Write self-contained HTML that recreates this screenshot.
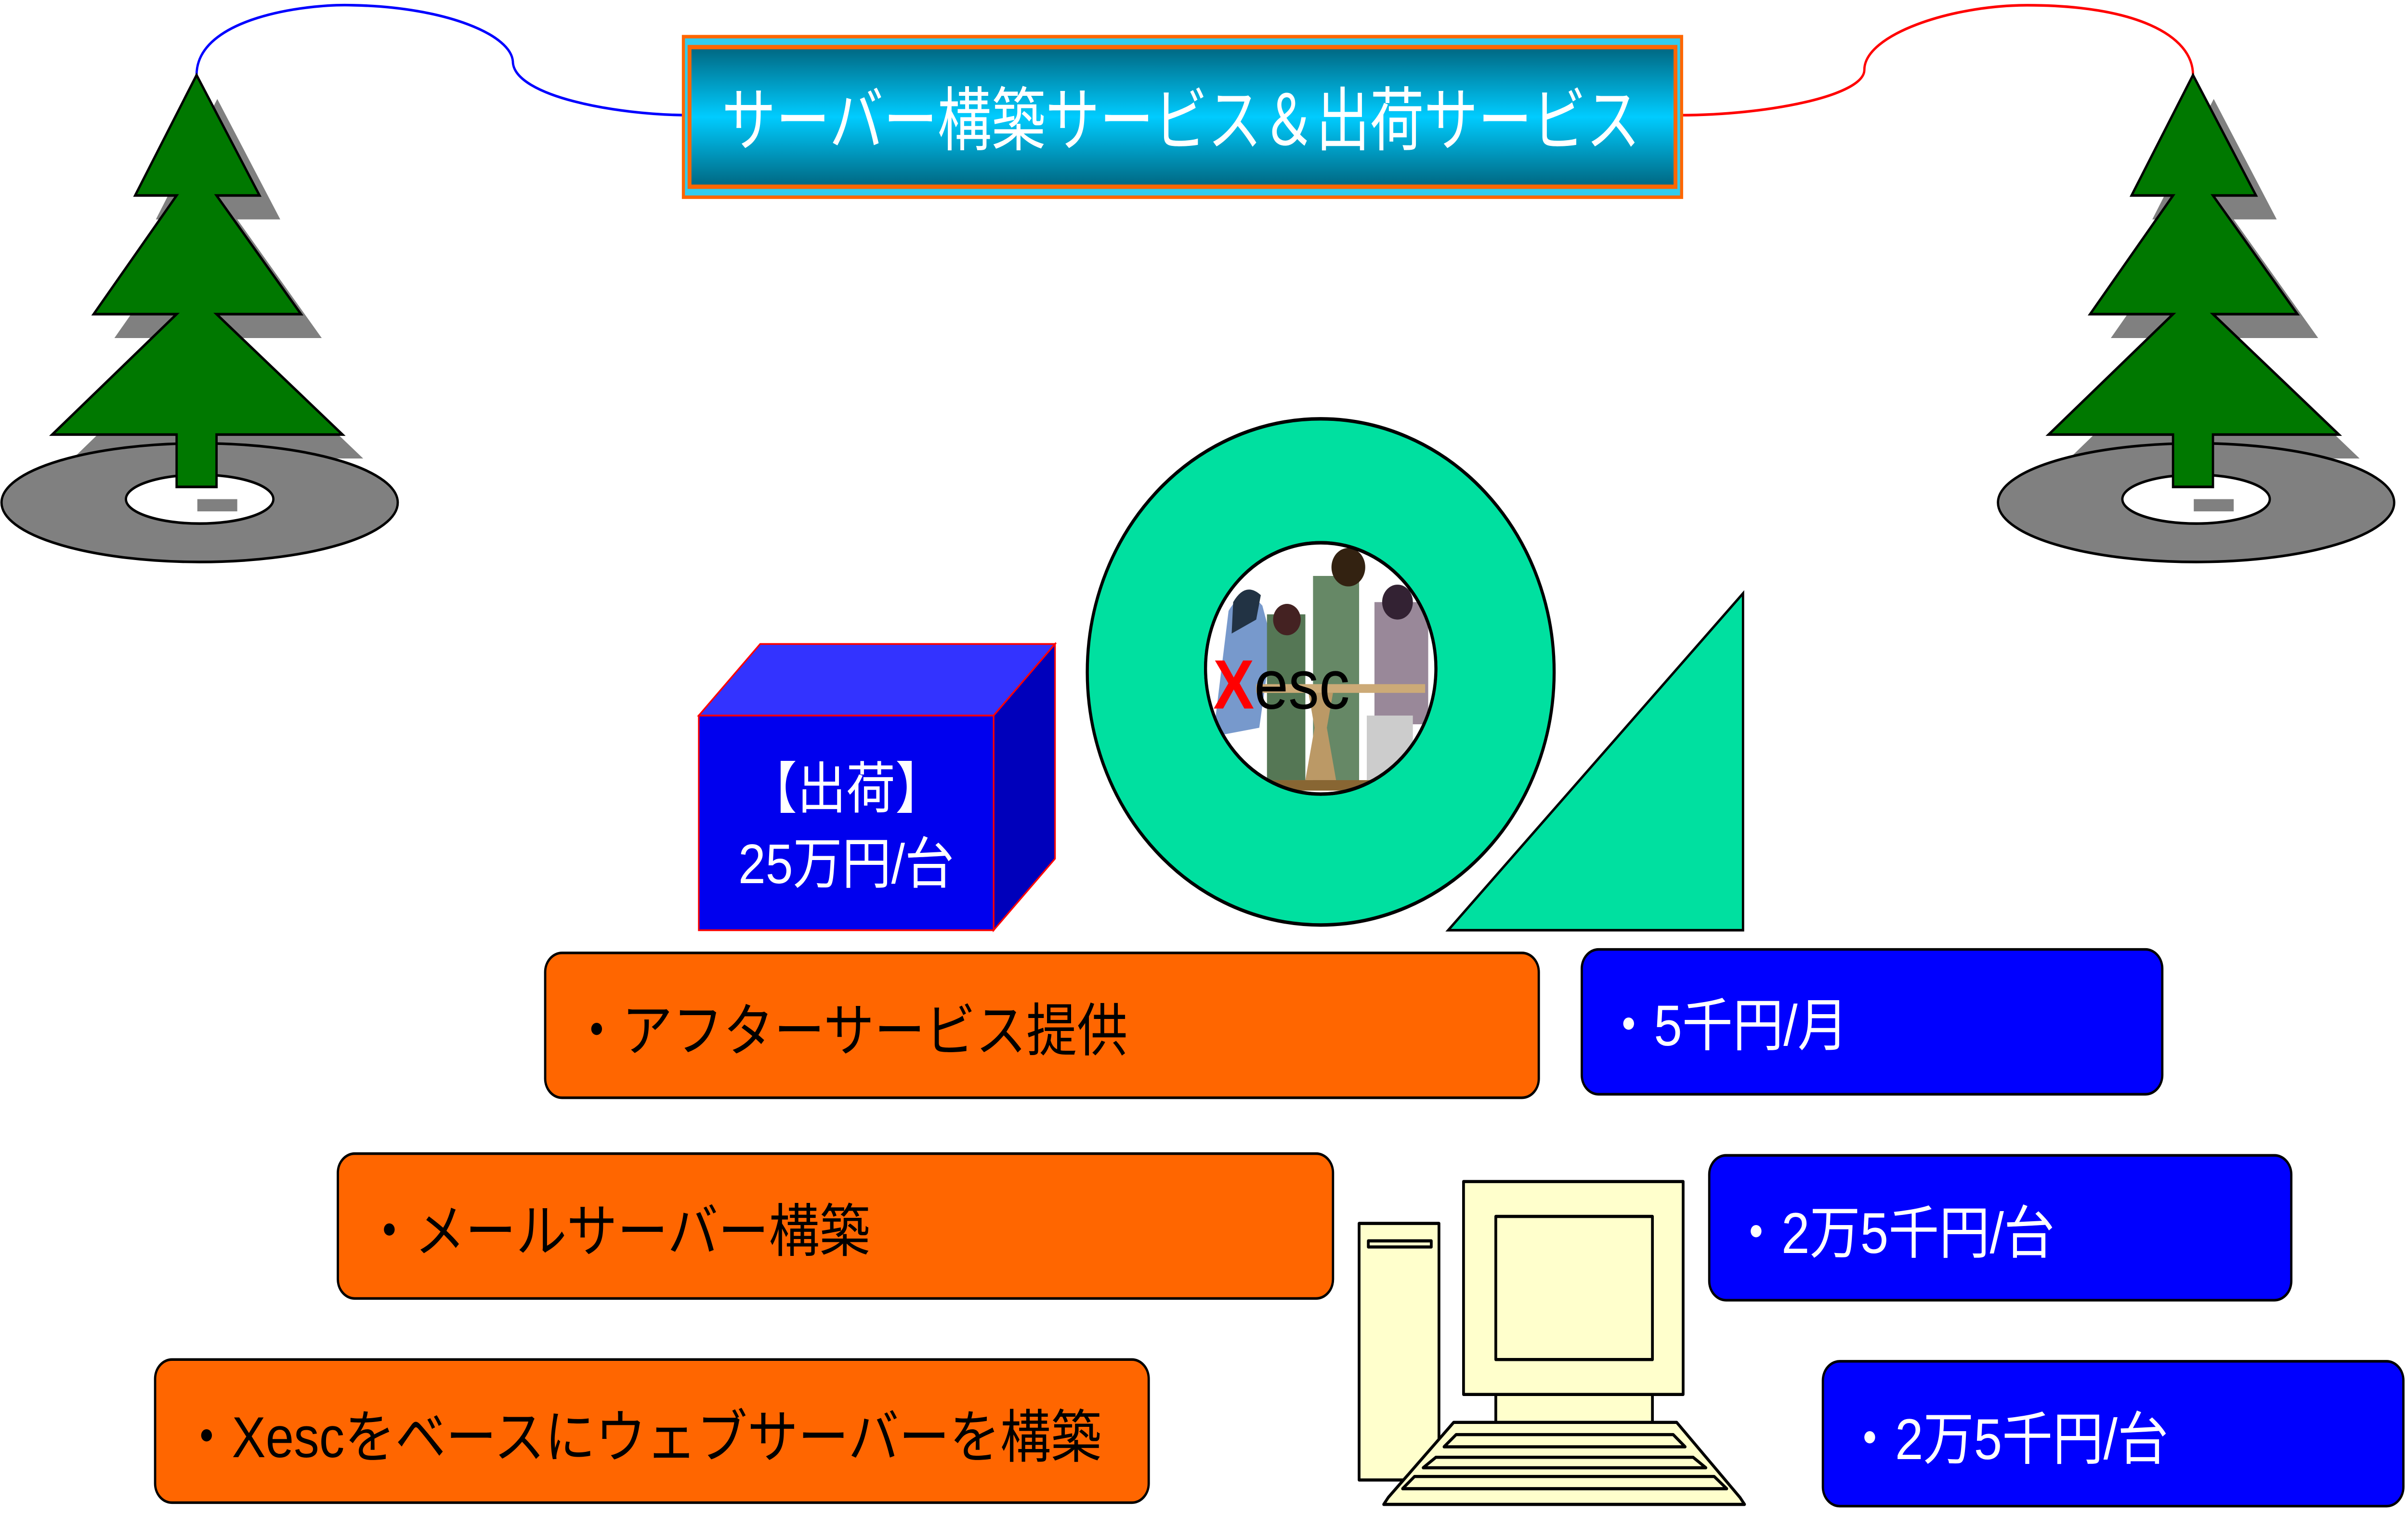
<!DOCTYPE html>
<html><head><meta charset="utf-8"><style>html,body{margin:0;padding:0;background:#fff;overflow:hidden;width:100%;height:100%}svg{display:block;position:absolute;left:0;top:0;width:100vw;height:100vh}</style></head>
<body>
<svg xmlns="http://www.w3.org/2000/svg" viewBox="0 0 1568 867.5" preserveAspectRatio="none" font-family="'Liberation Sans','Noto Sans CJK JP',sans-serif">
<defs>
<linearGradient id="tg" x1="0" y1="0" x2="0" y2="1">
<stop offset="0" stop-color="#006680"/><stop offset="0.5" stop-color="#00CCFF"/><stop offset="1" stop-color="#006680"/>
</linearGradient>
<clipPath id="ic"><ellipse cx="860" cy="383" rx="75" ry="72"/></clipPath>
<g id="tree">
<g fill="#808080" transform="translate(13.5,13.7)">
<polygon points="128,43 169,112 141,112 196,180 141,180 223,249 141,249 141,279 115,279 115,249 34,249 115,180 61,180 115,112 88,112"/>
</g>
<ellipse cx="130" cy="288" rx="129" ry="34" fill="#808080" stroke="#000" stroke-width="1.5"/>
<ellipse cx="130" cy="286" rx="48" ry="14" fill="#fff" stroke="#000" stroke-width="1.5"/>
<rect x="128.5" y="286" width="26" height="7" fill="#808080"/>
<polygon points="128,43 169,112 141,112 196,180 141,180 223,249 141,249 141,279 115,279 115,249 34,249 115,180 61,180 115,112 88,112" fill="#007800" stroke="#000" stroke-width="1.5" stroke-linejoin="miter"/>
</g>
</defs>

<path d="M128,43 C128,10 200,2 230,3 C290,4 334,20 334,36 C336,55 400,66 450,66" fill="none" stroke="#0000FF" stroke-width="1.5"/>
<path d="M1094,66 C1150,66 1214,55 1214,40 C1214,20 1270,3 1320,3 C1390,3 1428,20 1428,43" fill="none" stroke="#FF0000" stroke-width="1.5"/>

<use href="#tree"/>
<use href="#tree" transform="translate(1300,0)"/>

<rect x="445" y="21" width="650" height="92" fill="#33CCEE" stroke="#FF6600" stroke-width="2"/>
<rect x="449" y="27" width="642" height="80" fill="url(#tg)" stroke="#FF6600" stroke-width="2.5"/>
<text x="470" y="83" font-size="40" fill="#fff" textLength="598" lengthAdjust="spacingAndGlyphs">サーバー構築サービス＆出荷サービス</text>

<path fill-rule="evenodd" d="M708,385 a152,145 0 1,0 304,0 a152,145 0 1,0 -304,0 Z M785,383 a75,72 0 1,0 150,0 a75,72 0 1,0 -150,0 Z" fill="#00E0A0" stroke="#000" stroke-width="2"/>
<ellipse cx="860" cy="383" rx="75" ry="72" fill="#fff"/>
<g clip-path="url(#ic)">
<path d="M800,350 q10,-15 22,-3 l6,20 l-8,50 l-30,5 z" fill="#7799CC"/>
<path d="M803,345 q8,-12 18,-4 l-3,14 l-16,8 z" fill="#223344"/>
<rect x="825" y="352" width="25" height="95" fill="#557755"/>
<circle cx="838" cy="355" r="9" fill="#442222"/>
<rect x="855" y="330" width="30" height="118" fill="#668866"/>
<circle cx="878" cy="325" r="11" fill="#332211"/>
<rect x="895" y="345" width="35" height="70" fill="#998899"/>
<circle cx="910" cy="345" r="10" fill="#332233"/>
<rect x="890" y="410" width="30" height="40" fill="#CCCCCC"/>
<rect x="818" y="392" width="110" height="5" fill="#CCAA77"/>
<path d="M852,397 h16 l-4,20 l6,30 h-20 l6,-30 z" fill="#BB9966"/>
<rect x="820" y="447" width="80" height="6" fill="#886633"/>
</g>
<ellipse cx="860" cy="383" rx="75" ry="72" fill="none" stroke="#000" stroke-width="2"/>
<text x="790" y="406" font-size="40"><tspan fill="#FF0000" font-weight="bold">X</tspan><tspan fill="#000">esc</tspan></text>

<polygon points="943,533 1135,340 1135,533" fill="#00E0A0" stroke="#000" stroke-width="1.5"/>

<polygon points="455,410 495,369 687,369 647,410" fill="#3333FF" stroke="#FF0000" stroke-width="1"/>
<polygon points="647,410 687,369 687,492 647,533" fill="#0000BB" stroke="#FF0000" stroke-width="1"/>
<rect x="455" y="410" width="192" height="123" fill="#0000EE" stroke="#FF0000" stroke-width="1"/>
<text x="551" y="463" font-size="32" fill="#fff" text-anchor="middle">【出荷】</text>
<text x="551" y="506" font-size="32" fill="#fff" text-anchor="middle">25万円/台</text>

<g fill="#FF6600" stroke="#000" stroke-width="1.5">
<rect x="355" y="546" width="647" height="83" rx="11"/>
<rect x="220" y="661" width="648" height="83" rx="11"/>
<rect x="101" y="779" width="647" height="82" rx="11"/>
</g>
<g font-size="33" fill="#000">
<text x="372" y="602">・アフターサービス提供</text>
<text x="237" y="717">・メールサーバー構築</text>
<text x="118" y="835">・Xescをベースにウェブサーバーを構築</text>
</g>

<g fill="#0000FF" stroke="#000" stroke-width="1.5">
<rect x="1030" y="544" width="378" height="83" rx="11"/>
<rect x="1113" y="662" width="379" height="83" rx="11"/>
<rect x="1187" y="780" width="378" height="83" rx="11"/>
</g>
<g font-size="33" fill="#fff">
<text x="1044" y="599">・5千円/月</text>
<text x="1127" y="718">・2万5千円/台</text>
<text x="1201" y="836">・2万5千円/台</text>
</g>

<g fill="#FFFFCC" stroke="#000" stroke-width="1.8" stroke-linejoin="round">
<rect x="885" y="701" width="52" height="147"/>
<rect x="891" y="711" width="41" height="3.5"/>
<rect x="974" y="799" width="102" height="17"/>
<rect x="953" y="677" width="143" height="122"/>
<rect x="974" y="697" width="102" height="82"/>
<path d="M946.6,815 L1091.8,815 L1133,858 L1136,862 L901,862 L904,858 Z"/>
<polygon points="948.2,822 1089.5,822 1097.3,829 940.3,829"/>
<polygon points="935,835 1102.5,835 1110.8,841 926.7,841"/>
<polygon points="921.1,846 1116.2,846 1124.4,853 913.3,853"/>
</g>
</svg>
</body></html>
